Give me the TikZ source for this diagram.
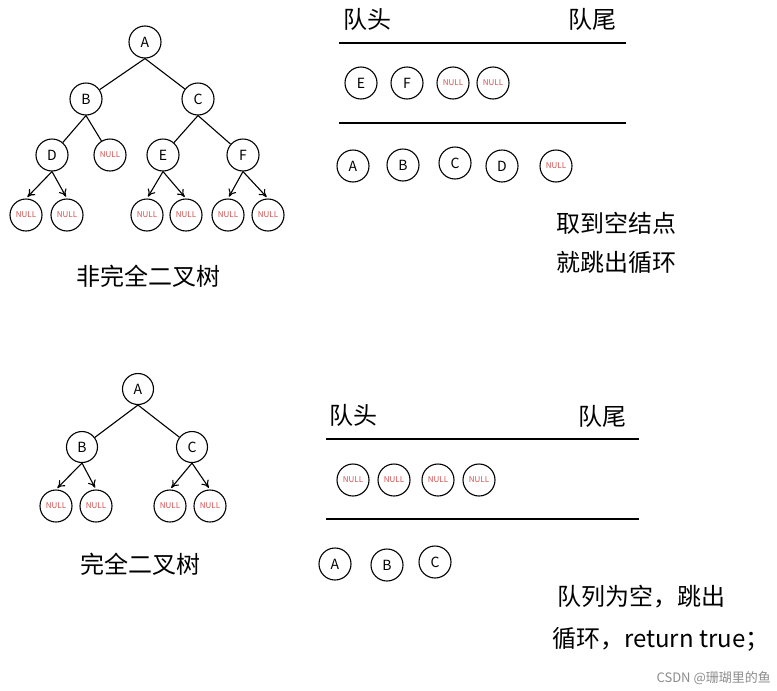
\documentclass[tikz,border=0pt]{standalone}
\usepackage{fontspec}
\setmainfont{Noto Sans CJK SC}
\usetikzlibrary{arrows.meta}
\definecolor{nullred}{RGB}{214,80,80}

\begin{document}
\begin{tikzpicture}[x=1pt, y=-1pt,
  vtx/.style={circle, draw, line width=1.1pt, minimum size=32pt, inner sep=0pt, font=\fontsize{14}{14}\selectfont},
  nul/.style={vtx, text=nullred, font=\fontsize{8}{8}\selectfont},
  lnk/.style={line width=1.1pt},
  arr/.style={lnk, -{To[length=2.6mm, width=3mm]}, shorten >=2pt},
  lbl/.style={inner sep=0pt, font=\fontsize{24}{24}\selectfont},
  bar/.style={line width=2.8pt}
]
\path[use as bounding box, fill=white] (0,0) rectangle (777,691);

% non-complete tree
\node[vtx] (tA) at (145,42) {A};
\node[vtx] (tB) at (86,99) {B};
\node[vtx] (tC) at (198,99) {C};
\node[vtx] (tD) at (52,155) {D};
\node[nul] (tBn) at (110,155) {NULL};
\node[vtx] (tE) at (163,155) {E};
\node[vtx] (tF) at (243,155) {F};
\node[nul] (tD1) at (26,215) {NULL};
\node[nul] (tD2) at (67,215) {NULL};
\node[nul] (tE1) at (147,215) {NULL};
\node[nul] (tE2) at (186,215) {NULL};
\node[nul] (tF1) at (228,215) {NULL};
\node[nul] (tF2) at (268,215) {NULL};

\draw[lnk] (tA.south) -- (tB);
\draw[lnk] (tA.south) -- (tC);
\draw[lnk] (tB.south) -- (tD);
\draw[lnk] (tB.south) -- (tBn);
\draw[lnk] (tC.south) -- (tE);
\draw[lnk] (tC.south) -- (tF);
\foreach \p in {D,E,F}{
  \draw[arr] (t\p.south) -- (t\p1.north);
  \draw[arr] (t\p.south) -- (t\p2.north);
}
\node[lbl] (tname) at (148,276) {非完全二叉树};

% queue, first case
\node[lbl] (q1head) at (367,19) {队头};
\node[lbl] (q1tail) at (592,19) {队尾};
\coordinate (q1a) at (339,43);
\coordinate (q1b) at (626,43);
\coordinate (q1c) at (339,123);
\coordinate (q1d) at (626,123);
\draw[bar] (q1a) -- (q1b);
\draw[bar] (q1c) -- (q1d);
\node[vtx] (q1E) at (361,83) {E};
\node[vtx] (q1F) at (407,83) {F};
\node[nul] (q1n1) at (453,83) {NULL};
\node[nul] (q1n2) at (493,83) {NULL};
\node[vtx] (o1A) at (353,166) {A};
\node[vtx] (o1B) at (403,165) {B};
\node[vtx] (o1C) at (455,163) {C};
\node[vtx] (o1D) at (502,166) {D};
\node[nul] (o1n) at (556,166) {NULL};
\node[lbl, anchor=west] (note1a) at (556,223) {取到空结点};
\node[lbl, anchor=west] (note1b) at (556,262) {就跳出循环};

% complete tree
\node[vtx, minimum size=31pt] (cA) at (138,389) {A};
\node[vtx, minimum size=31pt] (cB) at (82,447) {B};
\node[vtx, minimum size=31pt] (cC) at (192,447) {C};
\node[nul] (cB1) at (56,506) {NULL};
\node[nul] (cB2) at (96,506) {NULL};
\node[nul] (cC1) at (170,506) {NULL};
\node[nul] (cC2) at (210,506) {NULL};
\draw[lnk] (cA.south) -- (cB);
\draw[lnk] (cA.south) -- (cC);
\foreach \p in {B,C}{
  \draw[arr] (c\p.south) -- (c\p1.north);
  \draw[arr] (c\p.south) -- (c\p2.north);
}
\node[lbl] (cname) at (140,564) {完全二叉树};

% queue, second case
\node[lbl] (q2head) at (353,415) {队头};
\node[lbl] (q2tail) at (602,416) {队尾};
\coordinate (q2a) at (326,439);
\coordinate (q2b) at (639,439);
\coordinate (q2c) at (326,519);
\coordinate (q2d) at (639,519);
\draw[bar] (q2a) -- (q2b);
\draw[bar] (q2c) -- (q2d);
\node[nul] (q2n1) at (353,480) {NULL};
\node[nul] (q2n2) at (394,480) {NULL};
\node[nul] (q2n3) at (438,480) {NULL};
\node[nul] (q2n4) at (479,480) {NULL};
\node[vtx] (o2A) at (335,564) {A};
\node[vtx] (o2B) at (387,565) {B};
\node[vtx] (o2C) at (435,562) {C};
\node[lbl, anchor=west] (note2a) at (557,597) {队列为空，跳出};
\node[lbl, anchor=west] (note2b) at (552,639) {循环，return true；};

\node[anchor=east, inner sep=0pt, text=black!45, font=\fontsize{13}{13}\selectfont] (mark) at (771,678) {CSDN @珊瑚里的鱼};
\end{tikzpicture}
\end{document}
